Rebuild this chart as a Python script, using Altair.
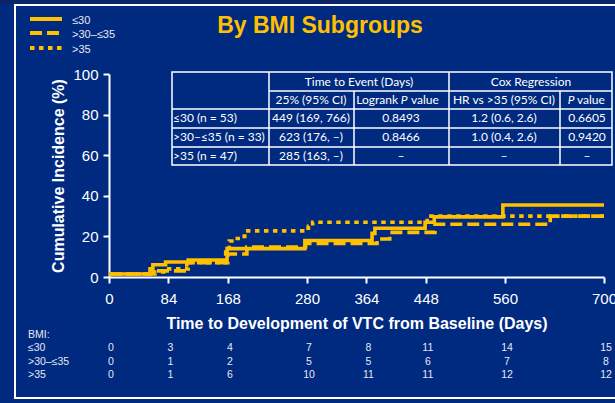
import altair as alt
import pandas as pd

# Cumulative incidence (%) of VTC by day, one step series per BMI group
le30_days = [0, 58, 62, 80, 112, 167, 277, 372, 376, 447, 460, 557, 700]
le30_pct = [1.5, 4.0, 6.0, 7.4, 8.4, 14.0, 18.0, 21.5, 24.0, 27.0, 29.6, 35.5, 35.5]

mid_days = [0, 65, 110, 168, 195, 278, 379, 397, 461, 624, 700]
mid_pct = [1.5, 3.0, 7.0, 11.3, 14.8, 16.5, 18.7, 22.0, 26.0, 30.0, 30.0]

gt35_days = [0, 60, 80, 112, 165, 170, 178, 188, 192, 277, 282, 288, 450, 700]
gt35_pct = [1.5, 2.5, 4.0, 7.0, 12.3, 17.7, 19.0, 20.0, 22.7, 24.0, 25.0, 27.0, 30.0, 30.0]

group_labels = ["≤30", ">30–≤35", ">35"]

# Cumulative events below the x axis
risk_days = [0, 84, 168, 280, 364, 448, 560, 700]
risk_le30 = [0, 3, 4, 7, 8, 11, 14, 15]
risk_mid = [0, 1, 2, 5, 5, 6, 7, 8]
risk_gt35 = [0, 1, 6, 10, 11, 11, 12, 12]

# Summary table
table_top = ["Time to Event (Days)", "Cox Regression"]
table_sub = ["25% (95% CI)", "Logrank", "P", "value", "HR vs >35 (95% CI)", "P", "value"]
table_rows = [
    ["≤30 (n = 53)", "449 (169, 766)", "0.8493", "1.2 (0.6, 2.6)", "0.6605"],
    [">30–≤35 (n = 33)", "623 (176, –)", "0.8466", "1.0 (0.4, 2.6)", "0.9420"],
    [">35 (n = 47)", "285 (163, –)", "–", "–", "–"],
]

# ---- styling / layout ----
GOLD = "#FFC000"
BG = "#002a80"
WHITE = "#ffffff"
SOFT = "#e6e8f2"
FONT = "Liberation Sans"
TFONT = "Lato"

W, H = 615, 403
PLOT_LEFT, PLOT_TOP, PLOT_W, PLOT_H = 109, 74, 495, 203
XMAX, YMAX = 700, 100

XS = alt.Scale(domain=[0, XMAX], nice=False, zero=False)
YS = alt.Scale(domain=[0, YMAX], nice=False, zero=False)

X_AXIS = alt.Axis(
    values=risk_days, title="Time to Development of VTC from Baseline (Days)",
    titleFont=FONT, titleFontSize=16, titleFontWeight="bold", titleColor=WHITE,
    titlePadding=9, labelFont=FONT, labelFontSize=15, labelColor=WHITE,
    labelPadding=8, labelFlush=False, domainColor=WHITE, domainWidth=2,
    tickColor=WHITE, tickWidth=2, tickSize=6, grid=False,
)
Y_AXIS = alt.Axis(
    values=[0, 20, 40, 60, 80, 100], title="Cumulative Incidence (%)",
    titleFont=FONT, titleFontSize=16, titleFontWeight="bold", titleColor=WHITE,
    titlePadding=6, labelFont=FONT, labelFontSize=15, labelColor=WHITE,
    labelPadding=5, domainColor=WHITE, domainWidth=2, tickColor=WHITE,
    tickWidth=2, tickSize=6, grid=False,
)


def ux(px):
    """page x pixel -> day units of the x scale"""
    return (px - PLOT_LEFT) * XMAX / PLOT_W


def uy(py):
    """page y pixel -> percent units of the y scale"""
    return (PLOT_TOP + PLOT_H - py) * YMAX / PLOT_H


def X(field="x"):
    return alt.X(f"{field}:Q", scale=XS, axis=X_AXIS)


def Y(field="y"):
    return alt.Y(f"{field}:Q", scale=YS, axis=Y_AXIS)


def texts(rows, **kw):
    df = pd.DataFrame(rows, columns=["t", "x", "y"])
    return alt.Chart(df).mark_text(**kw).encode(x=X(), y=Y(), text="t:N")


def segments(rows, **kw):
    df = pd.DataFrame(rows, columns=["x", "x2", "y", "y2"])
    return alt.Chart(df).mark_rule(**kw).encode(
        x=X(), x2="x2:Q", y=Y(), y2="y2:Q"
    )


def box(x0, x1, y0, y1, **kw):
    df = pd.DataFrame({"x": [ux(x0)], "x2": [ux(x1)], "y": [uy(y0)], "y2": [uy(y1)]})
    return alt.Chart(df).mark_rect(**kw).encode(x=X(), x2="x2:Q", y=Y(), y2="y2:Q")


# top strip and white frame
strip = box(-5, 640, -5, 4, color="#0a2468")
frame = box(15, 650, 5, 398, filled=False, stroke=WHITE, strokeWidth=2)

# ---- curves ----
dashes = {"≤30": [1, 0], ">30–≤35": [12, 5], ">35": [4.5, 4.5]}
series = {
    "≤30": (le30_days, le30_pct),
    ">30–≤35": (mid_days, mid_pct),
    ">35": (gt35_days, gt35_pct),
}

curves = []
for g in [">35", ">30–≤35", "≤30"]:
    d, p = series[g]
    df = pd.DataFrame({"x": d, "y": p})
    mk = dict(color=GOLD, strokeWidth=3.6, interpolate="step-after", clip=False)
    if g != "≤30":
        mk["strokeDash"] = dashes[g]
    curves.append(alt.Chart(df).mark_line(**mk).encode(x=X(), y=Y()))

# ---- legend ----
legend_y = [19, 33, 48]
legend_layers = []
for g, ly in zip(group_labels, legend_y):
    kw = dict(color=GOLD, strokeWidth=4)
    if g != "≤30":
        kw["strokeDash"] = dashes[g]
    legend_layers.append(segments([[ux(30), ux(62), uy(ly), uy(ly)]], **kw))
legend_text = texts(
    [[g, ux(72), uy(ly + 2)] for g, ly in zip(group_labels, legend_y)],
    align="left", baseline="middle", font=FONT, fontSize=11, color=SOFT,
)

# ---- title ----
title = texts(
    [["By BMI Subgroups", ux(320), uy(26)]],
    align="center", baseline="middle", font=FONT, fontSize=23,
    fontWeight="bold", color=GOLD,
)

# ---- summary table ----
T_L, T_R, T_T, T_B = 172, 612, 72, 165
col_edges = [269, 354, 449, 560]
row_lines = [109, 128, 147]
table_bg = box(T_L, T_R, T_T, T_B, fill=BG, stroke=WHITE, strokeWidth=1.5)
grid_rows = [[ux(col_edges[0]), ux(T_R), uy(91), uy(91)]]
grid_rows += [[ux(T_L), ux(T_R), uy(r), uy(r)] for r in row_lines]
grid_rows += [[ux(col_edges[0]), ux(col_edges[0]), uy(T_T), uy(T_B)],
              [ux(col_edges[1]), ux(col_edges[1]), uy(91), uy(T_B)],
              [ux(col_edges[2]), ux(col_edges[2]), uy(T_T), uy(T_B)],
              [ux(col_edges[3]), ux(col_edges[3]), uy(91), uy(T_B)]]
table_grid = segments(grid_rows, color=WHITE, strokeWidth=1.5)

tstyle = dict(baseline="middle", font=TFONT, fontSize=12, color=WHITE)
col_centers = [311, 401, 504, 587]
row_y = [118, 137, 156]

head_center = [[table_top[0], ux(359), uy(82)], [table_top[1], ux(531), uy(82)],
               [table_sub[0], ux(311), uy(100)], [table_sub[4], ux(504), uy(100)]]
for r, ry in zip(table_rows, row_y):
    for c, cx in zip(r[1:], col_centers):
        head_center.append([c, ux(cx), uy(ry)])
table_center = texts(head_center, align="center", **tstyle)
table_left = texts(
    [[table_sub[3], ux(411), uy(100)], [table_sub[6], ux(577), uy(100)]]
    + [[r[0], ux(173), uy(ry)] for r, ry in zip(table_rows, row_y)],
    align="left", **tstyle,
)
table_right = texts([[table_sub[1], ux(398), uy(100)]], align="right", **tstyle)
table_ital = texts(
    [[table_sub[2], ux(404), uy(100)], [table_sub[5], ux(571), uy(100)]],
    align="center", fontStyle="italic", **tstyle,
)

# ---- cumulative events table under the axis ----
risk_rows_y = [348, 362, 375]
risk_labels = texts(
    [["BMI:", ux(28), uy(335)]]
    + [[g, ux(28), uy(ry)] for g, ry in zip(group_labels, risk_rows_y)],
    align="left", baseline="middle", font=FONT, fontSize=10.5, color=SOFT,
)
risk_df = pd.concat([
    pd.DataFrame({"x": risk_days, "y": uy(ry), "t": [str(v) for v in vals]})
    for vals, ry in zip([risk_le30, risk_mid, risk_gt35], risk_rows_y)
])
risk_nums = alt.Chart(risk_df).mark_text(
    align="center", baseline="middle", font=FONT, fontSize=10.5, color=SOFT, dx=2
).encode(x=X(), y=Y(), text="t:N")

chart = alt.layer(
    strip, frame, *curves, table_bg, table_grid, table_center, table_left,
    table_right, table_ital, *legend_layers, legend_text, title,
    risk_labels, risk_nums,
).properties(
    width=PLOT_W, height=PLOT_H,
    autosize=alt.AutoSizeParams(type="none"),
    padding={"left": PLOT_LEFT, "top": PLOT_TOP,
             "right": W - PLOT_LEFT - PLOT_W, "bottom": H - PLOT_TOP - PLOT_H},
).configure(background=BG).configure_view(stroke=None)

chart.save("out.html", embed_options={"renderer": "svg", "actions": False})
